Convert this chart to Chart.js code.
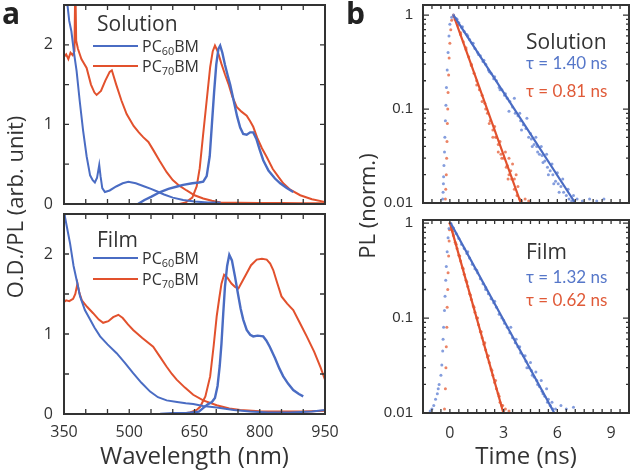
<!DOCTYPE html>
<html><head><meta charset="utf-8">
<script src="https://cdn.jsdelivr.net/npm/chart.js@4.4.1/dist/chart.umd.min.js"></script>
<style>
html,body{margin:0;padding:0;background:#fff;}
#wrap{position:relative;width:633px;height:474px;overflow:hidden;font-family:"Open Sans",sans-serif;color:#333;}
canvas{position:absolute;left:0;top:0;}
.t{position:absolute;white-space:nowrap;line-height:1;}
.sw{position:absolute;height:0;border-top:2.5px solid;}
sub{font-size:0.68em;vertical-align:-0.25em;line-height:0;}
.rot{position:absolute;white-space:nowrap;line-height:1;transform:translate(-50%,-50%) rotate(-90deg);}
</style></head><body>
<div id="wrap">
<canvas id="c1" width="633" height="474"></canvas>
<canvas id="c2" width="633" height="474"></canvas>
<canvas id="c3" width="633" height="474"></canvas>
<canvas id="c4" width="633" height="474"></canvas>

<div class="t" style="left:2px;top:-2px;font-size:30px;font-weight:bold;color:#222;">a</div>
<div class="t" style="left:346px;top:-2px;font-size:30px;font-weight:bold;color:#222;">b</div>

<div class="rot" style="left:14px;top:207px;font-size:22px;">O.D./PL (arb. unit)</div>
<div class="rot" style="left:366px;top:206px;font-size:22px;">PL (norm.)</div>

<div class="t" style="left:97px;top:13px;font-size:21px;">Solution</div>
<div class="sw" style="left:93px;top:45px;width:45px;border-color:#4a6cc3;"></div>
<div class="t" style="left:142px;top:38px;font-size:16px;">PC<sub>60</sub>BM</div>
<div class="sw" style="left:93px;top:65px;width:45px;border-color:#e2512d;"></div>
<div class="t" style="left:142px;top:58px;font-size:16px;">PC<sub>70</sub>BM</div>

<div class="t" style="left:97px;top:229px;font-size:21px;">Film</div>
<div class="sw" style="left:93px;top:257px;width:45px;border-color:#4a6cc3;"></div>
<div class="t" style="left:142px;top:250px;font-size:16px;">PC<sub>60</sub>BM</div>
<div class="sw" style="left:93px;top:278px;width:45px;border-color:#e2512d;"></div>
<div class="t" style="left:142px;top:271px;font-size:16px;">PC<sub>70</sub>BM</div>

<div class="t" style="left:526px;top:31px;font-size:21px;">Solution</div>
<div class="t" style="left:526px;top:54px;font-size:17px;color:#5677c9;font-family:Lato,sans-serif;">τ = 1.40 ns</div>
<div class="t" style="left:526px;top:82px;font-size:17px;color:#e05a38;font-family:Lato,sans-serif;">τ = 0.81 ns</div>

<div class="t" style="left:526px;top:241px;font-size:21px;">Film</div>
<div class="t" style="left:526px;top:268px;font-size:17px;color:#5677c9;font-family:Lato,sans-serif;">τ = 1.32 ns</div>
<div class="t" style="left:526px;top:291px;font-size:17px;color:#e05a38;font-family:Lato,sans-serif;">τ = 0.62 ns</div>
</div>
<script>
// ---------------- DATA ----------------
// Panel a, Solution: [wavelength nm, O.D./PL]
const SOL_PC60_ABS = [[350,3.2],[356,2.6],[362,2.3],[367,2.17],[373,1.9],[379,1.67],[386,1.3],[394,0.92],[402,0.6],[410,0.36],[416,0.3],[421,0.27],[426,0.33],[431,0.49],[434,0.35],[438,0.2],[444,0.15],[455,0.17],[470,0.22],[485,0.26],[498,0.28],[515,0.26],[535,0.22],[550,0.19],[563,0.16],[580,0.12],[600,0.08],[624,0.05],[650,0.03],[680,0.02],[710,0.02]];
const SOL_PC60_PL = [[520,0.0],[535,0.05],[550,0.09],[571,0.15],[590,0.19],[610,0.22],[624,0.24],[645,0.26],[660,0.27],[670,0.28],[678,0.35],[685,0.6],[690,1.0],[695,1.4],[700,1.75],[705,1.95],[709,1.99],[714,1.9],[720,1.75],[726,1.62],[732,1.5],[740,1.3],[748,1.1],[755,0.96],[762,0.88],[770,0.87],[778,0.9],[785,0.9],[792,0.82],[800,0.68],[808,0.55],[820,0.42],[835,0.32],[847,0.26],[862,0.2],[877,0.15]];
const SOL_PC70_ABS = [[350,1.85],[355,1.88],[360,1.82],[365,1.9],[370,1.87],[374,1.92],[376,2.8],[378,2.05],[382,1.95],[390,1.82],[402,1.71],[412,1.5],[420,1.4],[425,1.37],[435,1.42],[445,1.55],[455,1.66],[460,1.68],[470,1.5],[482,1.3],[494,1.13],[510,0.98],[522,0.9],[532,0.84],[544,0.78],[555,0.68],[570,0.54],[586,0.4],[600,0.3],[615,0.23],[632,0.17],[650,0.11],[670,0.07],[690,0.04],[710,0.02],[750,0.015],[800,0.012],[850,0.012],[900,0.01],[950,0.01]];
const SOL_PC70_PL = [[615,0.0],[630,0.02],[645,0.08],[655,0.22],[662,0.45],[670,0.88],[678,1.3],[686,1.72],[692,1.92],[697,1.99],[703,1.92],[712,1.76],[720,1.63],[728,1.51],[737,1.35],[747,1.22],[758,1.16],[770,1.11],[778,1.04],[785,0.97],[795,0.82],[805,0.7],[816,0.59],[830,0.44],[843,0.34],[854,0.26],[870,0.18],[893,0.11],[920,0.06],[946,0.03],[950,0.02]];
// Panel a, Film
const FILM_PC60_ABS = [[350,2.7],[352,2.47],[358,2.3],[364,2.13],[372,1.85],[380,1.65],[387,1.47],[398,1.3],[410,1.18],[420,1.08],[433,0.97],[450,0.87],[471,0.76],[490,0.64],[509,0.51],[528,0.39],[548,0.28],[566,0.21],[586,0.17],[610,0.15],[630,0.135],[647,0.125],[670,0.1],[701,0.08],[740,0.05],[778,0.03],[820,0.02],[870,0.02],[920,0.03],[950,0.05]];
const FILM_PC60_PL = [[571,0.0],[600,0.01],[630,0.01],[660,0.03],[680,0.12],[690,0.15],[697,0.2],[703,0.35],[708,0.6],[712,0.88],[716,1.25],[720,1.59],[725,1.85],[730,1.99],[736,1.92],[743,1.72],[750,1.5],[756,1.32],[762,1.18],[770,1.05],[778,0.99],[785,0.97],[795,0.98],[808,0.97],[815,0.92],[823,0.84],[835,0.7],[845,0.57],[854,0.47],[865,0.38],[877,0.3],[890,0.25],[900,0.22]];
const FILM_PC70_ABS = [[350,1.4],[355,1.42],[362,1.41],[371,1.44],[376,1.5],[381,1.63],[385,1.52],[391,1.42],[403,1.34],[417,1.26],[430,1.18],[440,1.14],[452,1.16],[463,1.21],[475,1.24],[485,1.2],[497,1.12],[509,1.05],[530,0.95],[555,0.84],[570,0.72],[586,0.59],[598,0.5],[609,0.43],[628,0.33],[647,0.24],[670,0.17],[701,0.11],[730,0.07],[755,0.05],[800,0.035],[854,0.03],[900,0.03],[950,0.04]];
const FILM_PC70_PL = [[617,0.0],[640,0.02],[655,0.05],[663,0.09],[675,0.22],[686,0.47],[694,0.85],[701,1.22],[707,1.45],[712,1.63],[718,1.74],[726,1.7],[735,1.63],[743,1.59],[751,1.57],[760,1.66],[770,1.76],[780,1.86],[793,1.93],[805,1.94],[816,1.93],[824,1.88],[831,1.8],[840,1.64],[850,1.47],[863,1.38],[877,1.3],[892,1.14],[908,0.97],[925,0.78],[940,0.58],[950,0.43]];

// Panel b, Solution: [time ns, PL norm.]
const SOL_PC60_DECAY = [[-0.4,0.011],[-0.38,0.013],[-0.36,0.016],[-0.35,0.019],[-0.33,0.025],[-0.3,0.035],[-0.28,0.05],[-0.25,0.075],[-0.22,0.11],[-0.19,0.17],[-0.15,0.26],[-0.1,0.4],[-0.05,0.6],[0.0,0.8],[0.1,0.95],
 [0.2,1.0],[0.35,0.92],[0.5,0.83],[0.65,0.74],[0.8,0.67],[0.95,0.62],[1.1,0.55],[1.25,0.5],[1.4,0.44],[1.55,0.4],[1.7,0.37],[1.85,0.32],[2.0,0.3],[2.15,0.26],[2.3,0.24],[2.45,0.21],[2.6,0.2],[2.75,0.17],[2.9,0.16],[3.05,0.14],[3.2,0.13],[3.35,0.12],[3.5,0.105],[3.65,0.09],[3.8,0.085],[3.95,0.075],[4.1,0.068],[4.25,0.062],[4.4,0.05],[4.55,0.048],[4.7,0.042],[4.85,0.04],[5.0,0.033],[5.15,0.032],[5.3,0.028],[5.45,0.024],[5.6,0.022],[5.75,0.02],[5.9,0.017],[6.05,0.016],[6.2,0.015],[6.35,0.013],[6.5,0.012],[6.65,0.011],[6.8,0.0105],
 [0.4,0.9],[0.7,0.75],[1.0,0.6],[1.3,0.5],[1.6,0.38],[1.9,0.33],[2.2,0.25],[2.5,0.22],[2.8,0.16],[3.1,0.145],[3.3,0.095],[3.6,0.13],[3.9,0.09],[4.0,0.06],[4.3,0.08],[4.5,0.055],[4.6,0.04],[4.8,0.05],[4.9,0.035],[5.1,0.04],[5.2,0.027],[5.4,0.033],[5.5,0.02],[5.7,0.026],[5.8,0.016],[6.0,0.021],[6.1,0.013],[6.3,0.018],[6.6,0.014],[6.9,0.012],[7.1,0.011],[7.4,0.0105],[7.8,0.011],[8.2,0.0105],[8.6,0.011]];
const SOL_PC70_DECAY = [[-0.25,0.011],[-0.23,0.014],[-0.2,0.02],[-0.18,0.03],[-0.16,0.045],[-0.14,0.07],[-0.12,0.1],[-0.1,0.15],[-0.07,0.23],[-0.04,0.35],[0.0,0.5],[0.05,0.7],[0.1,0.88],
 [0.2,1.0],[0.3,0.9],[0.45,0.78],[0.6,0.62],[0.75,0.52],[0.9,0.43],[1.05,0.36],[1.2,0.29],[1.35,0.24],[1.5,0.2],[1.65,0.16],[1.8,0.14],[1.95,0.115],[2.1,0.09],[2.25,0.075],[2.4,0.06],[2.55,0.05],[2.7,0.042],[2.85,0.033],[3.0,0.03],[3.15,0.024],[3.3,0.02],[3.45,0.018],[3.6,0.014],[3.75,0.012],[3.9,0.011],
 [0.6,0.65],[0.9,0.45],[1.2,0.3],[1.5,0.18],[1.8,0.12],[2.0,0.1],[2.2,0.07],[2.4,0.05],[2.5,0.065],[2.6,0.05],[2.7,0.035],[2.8,0.045],[2.9,0.03],[3.1,0.035],[3.2,0.025],[3.25,0.018],[3.3,0.03],[3.4,0.022],[3.5,0.026],[3.6,0.018],[3.7,0.02],[3.8,0.015],[4.0,0.0105],[4.2,0.011],[4.4,0.0105]];
const SOL_PC60_FIT = [[0.2,1.0],[7.0,0.01]];
const SOL_PC70_FIT = [[0.2,1.0],[3.96,0.01]];

// Panel b, Film
const FILM_PC60_DECAY = [[-1.1,0.0105],[-1.0,0.011],[-0.9,0.012],[-0.8,0.014],[-0.7,0.016],[-0.65,0.018],[-0.6,0.02],[-0.5,0.025],[-0.45,0.032],[-0.4,0.045],[-0.38,0.06],[-0.35,0.08],[-0.3,0.12],[-0.27,0.17],[-0.23,0.25],[-0.2,0.35],[-0.15,0.5],[-0.1,0.7],[-0.05,0.88],
 [0.05,1.0],[0.2,0.89],[0.35,0.78],[0.5,0.69],[0.65,0.6],[0.8,0.54],[0.95,0.48],[1.1,0.43],[1.25,0.37],[1.4,0.33],[1.55,0.3],[1.7,0.26],[1.85,0.23],[2.0,0.21],[2.15,0.18],[2.3,0.16],[2.45,0.145],[2.6,0.13],[2.75,0.11],[2.9,0.1],[3.05,0.088],[3.2,0.08],[3.35,0.07],[3.5,0.062],[3.65,0.055],[3.8,0.05],[3.95,0.043],[4.1,0.04],[4.25,0.035],[4.4,0.03],[4.55,0.028],[4.7,0.024],[4.85,0.022],[5.0,0.019],[5.15,0.017],[5.3,0.015],[5.45,0.013],[5.6,0.012],[5.75,0.011],
 [1.0,0.5],[1.5,0.32],[2.0,0.2],[2.5,0.15],[3.0,0.095],[3.4,0.08],[3.7,0.06],[3.9,0.05],[4.2,0.04],[4.3,0.03],[4.5,0.034],[4.6,0.025],[4.8,0.027],[4.9,0.02],[5.1,0.022],[5.2,0.016],[5.4,0.018],[5.5,0.014],[5.7,0.013],[5.9,0.011],[6.2,0.012],[6.5,0.011],[6.9,0.0115]];
const FILM_PC70_DECAY = [[-0.3,0.011],[-0.25,0.018],[-0.22,0.03],[-0.2,0.05],[-0.17,0.08],[-0.15,0.13],[-0.12,0.2],[-0.1,0.3],[-0.07,0.45],[-0.04,0.65],[-0.02,0.85],
 [0.0,1.0],[0.1,0.86],[0.2,0.74],[0.3,0.63],[0.4,0.54],[0.5,0.46],[0.6,0.4],[0.7,0.34],[0.8,0.29],[0.9,0.25],[1.0,0.215],[1.1,0.18],[1.2,0.157],[1.3,0.135],[1.4,0.115],[1.5,0.1],[1.6,0.085],[1.7,0.072],[1.8,0.062],[1.9,0.053],[2.0,0.046],[2.1,0.039],[2.2,0.034],[2.3,0.029],[2.4,0.025],[2.5,0.021],[2.6,0.018],[2.7,0.016],[2.8,0.013],[2.9,0.012],[3.0,0.0105],[3.1,0.011],[3.3,0.0105],
 [0.15,0.82],[0.35,0.6],[0.55,0.45],[0.75,0.33],[0.95,0.24],[1.15,0.175],[1.35,0.13],[1.55,0.1],[1.75,0.072],[1.95,0.055],[2.15,0.04],[2.35,0.028],[2.55,0.022],[2.75,0.015],[2.95,0.012]];
const FILM_PC60_FIT = [[0.05,1.0],[5.83,0.01]];
const FILM_PC70_FIT = [[0.0,1.0],[2.99,0.01]];

// Tick labels and tick marks
const WL_LABELS = [350,500,650,800,950];
const OD_LABELS = [0,1,2];
const WL_MARKS = [400,450,500,550,600,650,700,750,800,850,900];
const OD_MARKS = [0.5,1,1.5,2];
const T_LABELS = [0,3,6,9];
const PL_LABELS = [0.01,0.1,1];
const T_MARKS = [-1,-0.5,0,0.5,1,1.5,2,2.5,3,3.5,4,4.5,5,5.5,6,6.5,7,7.5,8,8.5,9,9.5];
const PL_MINOR = [0.02,0.03,0.04,0.05,0.06,0.07,0.08,0.09,0.2,0.3,0.4,0.5,0.6,0.7,0.8,0.9];
const PL_MAJOR = [0.1,1];

// ---------------- STYLE / LAYOUT ----------------
const BLUE = '#4a6cc3', RED = '#e2512d';
const BLUE_DOT = 'rgba(110,140,215,0.85)', RED_DOT = 'rgba(232,110,75,0.85)';
const W = 633, H = 474, Y_W = 50;
const INK = '#333';

const frame = {
  id: 'frame',
  afterDatasetsDraw(chart) {
    const o = chart.options.plugins.frame;
    const { ctx, chartArea: a } = chart;
    const sx = chart.scales.x, sy = chart.scales.y;
    ctx.save();
    ctx.strokeStyle = INK; ctx.lineWidth = 1.3;
    ctx.beginPath();
    const xt = (vals, len) => vals.forEach(v => { const p = sx.getPixelForValue(v); ctx.moveTo(p, a.bottom); ctx.lineTo(p, a.bottom - len); ctx.moveTo(p, a.top); ctx.lineTo(p, a.top + len); });
    const yt = (vals, len) => vals.forEach(v => { const p = sy.getPixelForValue(v); ctx.moveTo(a.left, p); ctx.lineTo(a.left + len, p); ctx.moveTo(a.right, p); ctx.lineTo(a.right - len, p); });
    xt(o.x, o.lenX); yt(o.y, o.lenY); if (o.y2) yt(o.y2, o.lenY2);
    ctx.stroke();
    ctx.lineWidth = 2;
    ctx.strokeRect(a.left, a.top, a.right - a.left, a.bottom - a.top);
    ctx.restore();
  }
};

function line(data, color, w) {
  return { data, borderColor: color, borderWidth: w || 2, pointRadius: 0, tension: 0, fill: false, showLine: true };
}
function dots(data, color) {
  return { data, showLine: false, pointRadius: 1.5, pointBorderWidth: 0, pointBackgroundColor: color, borderColor: color };
}

function makeChart(id, box, xo, yo, datasets, fo) {
  const xH = xo.h;
  return new Chart(document.getElementById(id), {
    type: 'line',
    data: { datasets },
    options: {
      responsive: false, animation: false, events: [],
      layout: { padding: { left: box.L - Y_W, top: box.T, right: W - box.R, bottom: H - box.B - xH } },
      plugins: { legend: { display: false }, tooltip: { enabled: false }, frame: fo },
      scales: {
        x: {
          type: 'linear', min: xo.min, max: xo.max, position: 'bottom',
          grid: { display: false, drawTicks: false }, border: { display: false },
          ticks: { display: xo.labels.length > 0, padding: xo.pad || 8, color: INK, font: { family: 'Open Sans', size: 16 }, maxRotation: 0, autoSkip: false, callback: v => String(v) },
          title: xo.title ? { display: true, text: xo.title, color: INK, font: { family: 'Open Sans', size: 24 }, padding: { top: 0, bottom: 2 } } : { display: false },
          afterBuildTicks: s => { s.ticks = (xo.labels.length ? xo.labels : [xo.min]).map(v => ({ value: v })); },
          afterFit: s => { s.height = xH; s.paddingLeft = 0; s.paddingRight = 0; }
        },
        y: {
          type: yo.type, min: yo.min, max: yo.max, position: 'left',
          grid: { display: false, drawTicks: false }, border: { display: false },
          ticks: { padding: yo.pad, color: INK, font: yo.font, autoSkip: false, callback: v => String(v) },
          afterBuildTicks: s => { s.ticks = yo.labels.map(v => ({ value: v })); },
          afterFit: s => { s.width = Y_W; s.paddingTop = 0; s.paddingBottom = 0; }
        }
      }
    },
    plugins: [frame]
  });
}

const fontA = { family: 'Open Sans', size: 16 };
const fontB = { family: 'Liberation Sans', size: 15 };

// Panel a - Solution
makeChart('c1', { L: 64, T: 5, R: 325, B: 204 },
  { min: 350, max: 950, labels: [], h: 0 },
  { type: 'linear', min: 0, max: 2.5, labels: OD_LABELS, pad: 11, font: fontA },
  [line(SOL_PC60_PL, BLUE, 2.4), line(SOL_PC60_ABS, BLUE, 2), line(SOL_PC70_PL, RED, 2), line(SOL_PC70_ABS, RED, 2)],
  { x: WL_MARKS, lenX: 5, y: OD_MARKS, lenY: 5 });

// Panel a - Film
makeChart('c2', { L: 64, T: 214, R: 325, B: 414 },
  { min: 350, max: 950, labels: WL_LABELS, h: 60, pad: 9, title: 'Wavelength (nm)' },
  { type: 'linear', min: 0, max: 2.5, labels: OD_LABELS, pad: 11, font: fontA },
  [line(FILM_PC60_PL, BLUE, 2.4), line(FILM_PC60_ABS, BLUE, 2), line(FILM_PC70_PL, RED, 2), line(FILM_PC70_ABS, RED, 2)],
  { x: WL_MARKS, lenX: 5, y: OD_MARKS, lenY: 5 });

// Panel b - Solution
makeChart('c3', { L: 423, T: 5, R: 630, B: 203 },
  { min: -1.5, max: 10, labels: [], h: 0 },
  { type: 'logarithmic', min: 0.01, max: 1.28, labels: PL_LABELS, pad: 10, font: fontB },
  [line(SOL_PC60_FIT, BLUE, 2.2), line(SOL_PC70_FIT, RED, 2.2), dots(SOL_PC60_DECAY, BLUE_DOT), dots(SOL_PC70_DECAY, RED_DOT)],
  { x: T_MARKS, lenX: 4, y: PL_MINOR, lenY: 3, y2: PL_MAJOR, lenY2: 6 });

// Panel b - Film
makeChart('c4', { L: 423, T: 220, R: 630, B: 413 },
  { min: -1.5, max: 10, labels: T_LABELS, h: 61, pad: 11, title: 'Time (ns)' },
  { type: 'logarithmic', min: 0.01, max: 1.08, labels: PL_LABELS, pad: 10, font: fontB },
  [line(FILM_PC60_FIT, BLUE, 2.2), line(FILM_PC70_FIT, RED, 2.2), dots(FILM_PC60_DECAY, BLUE_DOT), dots(FILM_PC70_DECAY, RED_DOT)],
  { x: T_MARKS, lenX: 4, y: PL_MINOR, lenY: 3, y2: PL_MAJOR, lenY2: 6 });
</script>
</body></html>
